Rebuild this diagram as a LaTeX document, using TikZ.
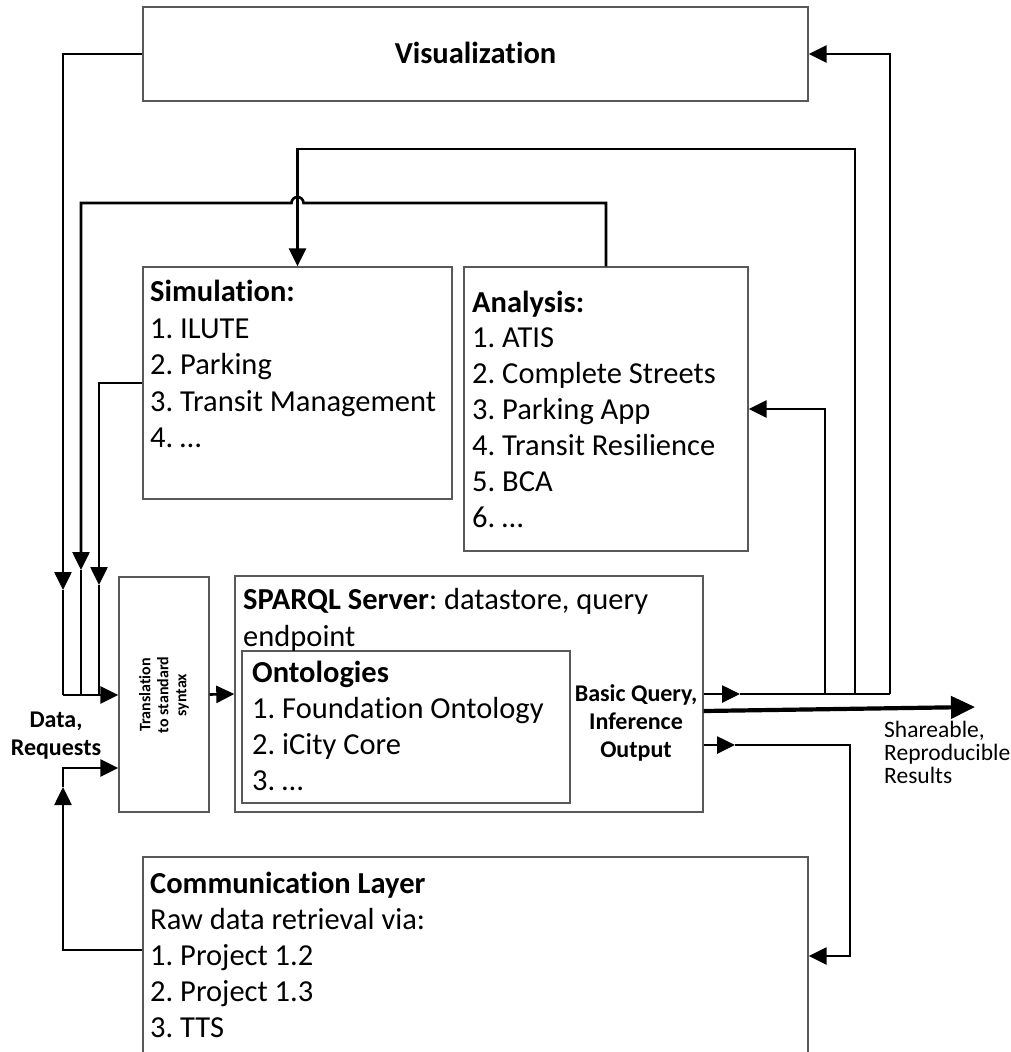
\documentclass[tikz,border=0pt]{standalone}
\usepackage{fontspec}
\setmainfont{Carlito}[Ligatures=NoCommon]
\usetikzlibrary{arrows.meta}
\frenchspacing
\begin{document}
\begin{tikzpicture}[x=1pt,y=-1pt,
  box/.style={draw=black!65,line width=1.4pt,inner sep=0pt},
  conn/.style={line width=2.6pt,black},
  arr/.style={conn,-{Triangle[length=18pt,width=17pt]}},
  txt/.style={anchor=base west,inner sep=0pt,font=\fontsize{30.5}{36}\selectfont},
  btxt/.style={txt,font=\bfseries\fontsize{30.5}{36}\selectfont},
  lbl/.style={anchor=base,inner sep=0pt,font=\bfseries\fontsize{24}{28}\selectfont},
  res/.style={anchor=base west,inner sep=0pt,font=\fontsize{23.5}{23}\selectfont}
]
\useasboundingbox (0,0) rectangle (1011,1052);
\clip (0,0) rectangle (1011,1052);

% boxes
\node[box,minimum width=665pt,minimum height=94pt] (vis) at (475.5,54) {};
\node[box,minimum width=309pt,minimum height=232pt] (sim) at (297.5,383) {};
\node[box,minimum width=284pt,minimum height=284pt] (ana) at (606,409) {};
\node[box,minimum width=90pt,minimum height=235pt] (trans) at (164,694.5) {};
\node[box,minimum width=468pt,minimum height=236pt] (sparql) at (469,694) {};
\node[box,minimum width=328pt,minimum height=152pt] (onto) at (406,727) {};
\node[box,minimum width=665pt,minimum height=213pt] (comm) at (475.5,963.5) {};

% texts
\node[anchor=base,inner sep=0pt,font=\bfseries\fontsize{30.5}{36}\selectfont] (visT) at (475.5,63) {Visualization};

\node[btxt] (simT) at (150,301) {Simulation:};
\foreach \y/\t [count=\i] in {338/1. ILUTE,374/2. Parking,411/3. Transit Management,447/4. …}
  \node[txt] (sim-\i) at (150,\y) {\t};

\node[btxt] (anaT) at (472,312) {Analysis:};
\foreach \y/\t [count=\i] in {347/1. ATIS,383/2. Complete Streets,419/3. Parking App,455/4. Transit Resilience,491/5. BCA,527/6. …}
  \node[txt] (ana-\i) at (472,\y) {\t};

\node[txt] (spT) at (243,609) {\textbf{SPARQL Server}: datastore, query};
\node[txt] (spT2) at (243,646) {endpoint};

\node[btxt] (ontoT) at (252,682) {Ontologies};
\foreach \y/\t [count=\i] in {718/1. Foundation Ontology,754/2. iCity Core,790/3. …}
  \node[txt] (onto-\i) at (252,\y) {\t};

\node[lbl] (bq1) at (636,701) {Basic Query,};
\node[lbl] (bq2) at (636,729) {Inference};
\node[lbl] (bq3) at (636,757) {Output};

\node[btxt] (commT) at (150,893) {Communication Layer};
\foreach \y/\t [count=\i] in {929/Raw data retrieval via:,965/1. Project 1.2,1001/2. Project 1.3,1037/3. TTS}
  \node[txt] (comm-\i) at (150,\y) {\t};

\node[lbl] (dr1) at (56,727) {Data,};
\node[lbl] (dr2) at (56,755) {Requests};

\node[res] (sh1) at (884,737) {Shareable,};
\node[res] (sh2) at (884,760) {Reproducible};
\node[res] (sh3) at (884,783) {Results};

\node[rotate=90,align=center,inner sep=0pt,font=\bfseries\fontsize{16}{18}\selectfont] (transT) at (164,695) {Translation\\to standard\\syntax};

% connectors: inputs on the left
\coordinate (a1) at (63,590);
\coordinate (j1) at (63,695);
\coordinate (h2) at (81,203);
\coordinate (hopR) at (303.5,203);
\coordinate (a2) at (81,570);
\coordinate (j2) at (81,695);
\coordinate (a3) at (99,585);
\coordinate (j3) at (99,695);
\coordinate (a4) at (63,787);
\coordinate (j4) at (63,768);

\draw[arr] (vis.west) -| (a1);
\draw[conn] (a1) -- (j1);
\draw[arr] (j1) -- (trans.west |- j1);

\draw[arr] (ana.north) |- (hopR) arc[start angle=0,end angle=180,radius=6pt] -- (h2) -- (a2);
\draw[conn] (a2) -- (j2);

\draw[arr] (sim.west) -| (a3);
\draw[conn] (a3) -- (j3);

\draw[arr] ([yshift=13.5pt]comm.west) -| (a4);
\draw[arr] (a4) |- (trans.west |- j4);

\draw[arr] (trans.east) -- (sparql.west);

% outputs on the right
\coordinate (a5) at (740,694);
\coordinate (b1) at (825,694);
\coordinate (b2) at (855,694);
\coordinate (b3) at (890,694);
\coordinate (b2t) at (855,149);
\draw[arr] (sparql.east) -- (a5);
\draw[conn] (a5) -- (b3);
\draw[arr] (b3) |- (vis.east);
\draw[arr] (b1) |- (ana.east);
\draw[arr] (b2) -- (b2t) -| (sim.north);

\coordinate (tip) at (975,707);
\draw[line width=4.2pt,-{Triangle[length=24pt,width=22pt]}] ([yshift=-17pt]sparql.east) -- (tip);

\coordinate (a6) at (735,745);
\coordinate (c6) at (850,745);
\draw[arr] ([yshift=-51pt]sparql.east) -- (a6);
\draw[arr] (a6) -- (c6) |- ([yshift=7.5pt]comm.east);
\end{tikzpicture}
\end{document}
